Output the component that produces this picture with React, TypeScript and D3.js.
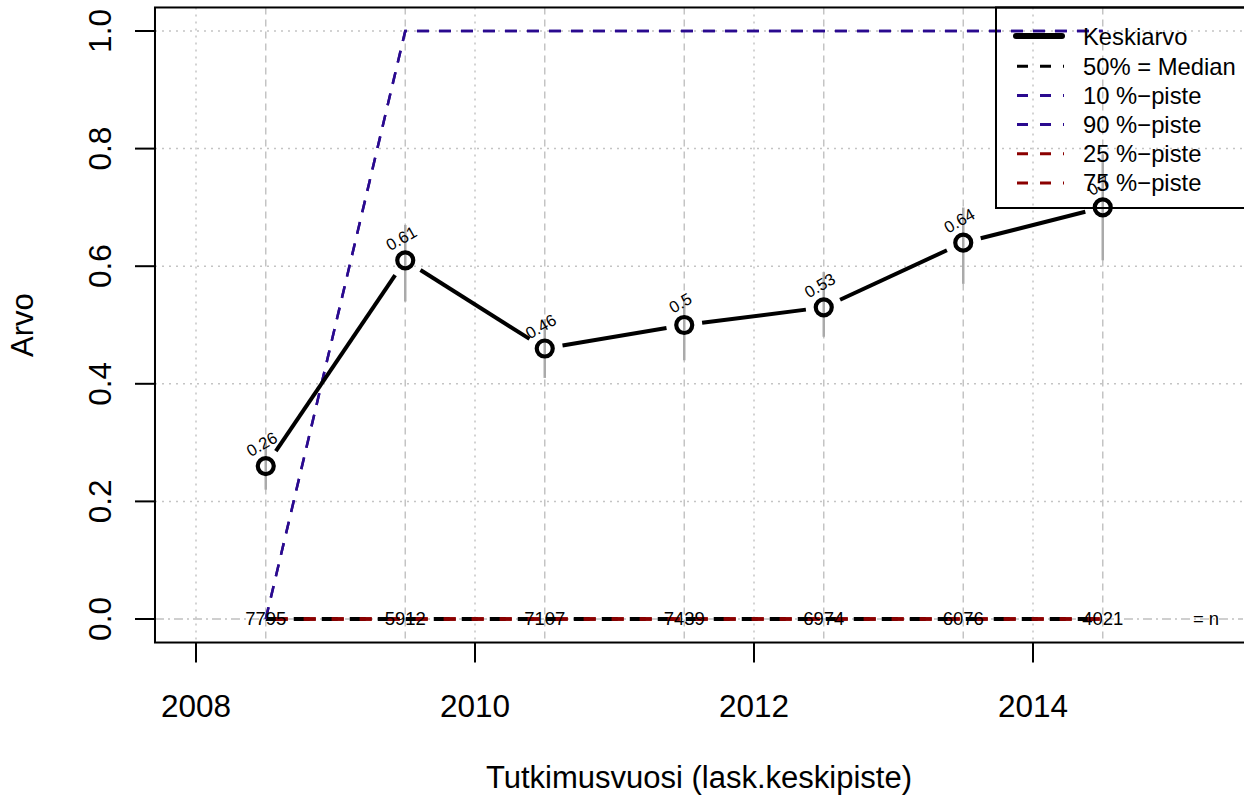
import React from "react";
import * as d3 from "d3";

const years = [2008.5, 2009.5, 2010.5, 2011.5, 2012.5, 2013.5, 2014.5];
const meanVals = [0.26, 0.61, 0.46, 0.5, 0.53, 0.64, 0.7];
const meanLabels = ["0.26", "0.61", "0.46", "0.5", "0.53", "0.64", "0.7"];
const nObs = [7795, 5912, 7107, 7439, 6974, 6076, 4021];
const ciLow = [0.22, 0.54, 0.41, 0.44, 0.48, 0.57, 0.61];
const ciHigh = [0.3, 0.67, 0.51, 0.54, 0.59, 0.7, 0.79];
const median = [0, 0, 0, 0, 0, 0, 0];
const p10 = [0, 1, 1, 1, 1, 1, 1];
const p90 = [0, 1, 1, 1, 1, 1, 1];
const p25 = [0, 0, 0, 0, 0, 0, 0];
const p75 = [0, 0, 0, 0, 0, 0, 0];
const xTicks = [2008, 2010, 2012, 2014];
const yTicks = [0, 0.2, 0.4, 0.6, 0.8, 1.0];
const legendItems = ["Keskiarvo", "50% = Median", "10 %\u2212piste", "90 %\u2212piste", "25 %\u2212piste", "75 %\u2212piste"];
const legendColors = ["#000000", "#000000", "#2a0a8f", "#2a0a8f", "#8b0000", "#8b0000"];

const W = 1244;
const H = 796;
const FONT = "'Liberation Sans', Arial, Helvetica, sans-serif";
const PURPLE = "#2a0a8f";
const DARKRED = "#8b0000";

export default function App() {
  const x = d3.scaleLinear().domain([2008, 2014]).range([196, 1033]);
  const y = d3.scaleLinear().domain([0, 1]).range([619, 31]);
  const left = x(2007.706);
  const right = 1243;
  const top = y(1.04);
  const bottom = y(-0.04);

  const line = d3
    .line<number>()
    .x((_, i) => x(years[i]))
    .y((v) => y(v));

  const gap = 18;
  const segs: { x1: number; y1: number; x2: number; y2: number }[] = [];
  for (let i = 0; i < years.length - 1; i++) {
    const ax = x(years[i]), ay = y(meanVals[i]);
    const bx = x(years[i + 1]), by = y(meanVals[i + 1]);
    const len = Math.hypot(bx - ax, by - ay);
    const ux = (bx - ax) / len, uy = (by - ay) / len;
    segs.push({ x1: ax + ux * gap, y1: ay + uy * gap, x2: bx - ux * gap, y2: by - uy * gap });
  }

  const legX = 996;
  const legTop = top;
  const rowH = 29.2;
  const row0 = 37;

  return (
    <svg
      width={W}
      height={H}
      style={{ position: "absolute", left: 0, top: 0, background: "#fff" }}
      fontFamily={FONT}
    >
      <rect x={0} y={0} width={W} height={H} fill="#fff" />
      <defs>
        <clipPath id="plotclip">
          <rect x={left} y={top} width={right - left} height={bottom - top} />
        </clipPath>
      </defs>
      <g clipPath="url(#plotclip)">
        {xTicks.map((t) => (
          <line key={"gx" + t} x1={x(t)} x2={x(t)} y1={top} y2={bottom} stroke="#c4c4c4" strokeWidth={1.5} strokeDasharray="2,5" />
        ))}
        {yTicks.filter((t) => t > 0).map((t) => (
          <line key={"gy" + t} x1={left} x2={right} y1={y(t)} y2={y(t)} stroke="#c4c4c4" strokeWidth={1.5} strokeDasharray="2,5" />
        ))}
        {years.map((t) => (
          <line key={"gv" + t} x1={x(t)} x2={x(t)} y1={top} y2={bottom} stroke="#c4c4c4" strokeWidth={1.5} strokeDasharray="7,5" />
        ))}
        <line x1={left} x2={right} y1={y(0)} y2={y(0)} stroke="#c0c0c0" strokeWidth={1.5} strokeDasharray="9,4,2,4" />

        <path d={line(median) || ""} fill="none" stroke="#000" strokeWidth={4} strokeDasharray="16,12" />
        <path d={line(p10) || ""} fill="none" stroke={PURPLE} strokeWidth={2.5} strokeDasharray="12,10" />
        <path d={line(p90) || ""} fill="none" stroke={PURPLE} strokeWidth={2.5} strokeDasharray="12,10" />
        <path d={line(p25) || ""} fill="none" stroke={DARKRED} strokeWidth={3.5} strokeDasharray="12,16" strokeDashoffset={18} />
        <path d={line(p75) || ""} fill="none" stroke={DARKRED} strokeWidth={3.5} strokeDasharray="12,16" strokeDashoffset={18} />

        {years.map((t, i) => (
          <line key={"ci" + t} x1={x(t)} x2={x(t)} y1={y(ciLow[i])} y2={y(ciHigh[i])} stroke="#aaaaaa" strokeWidth={2.5} />
        ))}

        {segs.map((s, i) => (
          <line key={"s" + i} x1={s.x1} y1={s.y1} x2={s.x2} y2={s.y2} stroke="#000" strokeWidth={4} />
        ))}
        {years.map((t, i) => (
          <circle key={"c" + t} cx={x(t)} cy={y(meanVals[i])} r={8} fill="none" stroke="#000" strokeWidth={4.2} />
        ))}

        {years.map((t, i) => (
          <text key={"n" + t} x={x(t)} y={y(0)} dy="0.35em" textAnchor="middle" fontSize={18.5} fill="#000">
            {nObs[i]}
          </text>
        ))}
        <text x={1206} y={y(0)} dy="0.35em" textAnchor="middle" fontSize={18.5} fill="#000">
          = n
        </text>

        {years.map((t, i) => (
          <text
            key={"v" + t}
            transform={`translate(${x(t) - 1},${y(meanVals[i]) - 17}) rotate(-30)`}
            textAnchor="middle"
            fontSize={16.5}
            fill="#000"
          >
            {meanLabels[i]}
          </text>
        ))}
      </g>

      <rect x={left} y={top} width={right - left + 4} height={bottom - top} fill="none" stroke="#000" strokeWidth={2} />

      {xTicks.map((t) => (
        <g key={"xt" + t}>
          <line x1={x(t)} x2={x(t)} y1={bottom} y2={bottom + 20} stroke="#000" strokeWidth={2} />
          <text x={x(t)} y={717} textAnchor="middle" fontSize={31.5} fill="#000">
            {t}
          </text>
        </g>
      ))}
      {yTicks.map((t) => (
        <g key={"yt" + t}>
          <line x1={left - 20} x2={left} y1={y(t)} y2={y(t)} stroke="#000" strokeWidth={2} />
          <text transform={`translate(111,${y(t)}) rotate(-90)`} textAnchor="middle" fontSize={31.5} fill="#000">
            {t.toFixed(1)}
          </text>
        </g>
      ))}

      <text x={(left + right) / 2} y={788} textAnchor="middle" fontSize={31} fill="#000">
        Tutkimusvuosi (lask.keskipiste)
      </text>
      <text transform={`translate(33,${(top + bottom) / 2}) rotate(-90)`} textAnchor="middle" fontSize={31} fill="#000">
        Arvo
      </text>

      <rect x={legX} y={legTop} width={W - legX + 10} height={208 - legTop} fill="none" stroke="#000" strokeWidth={2} />
      {legendItems.map((lab, i) => {
        const cy = row0 + i * rowH;
        return (
          <g key={"lg" + i}>
            {i === 0 ? (
              <line x1={1016} x2={1062} y1={cy - 1} y2={cy - 1} stroke="#000" strokeWidth={6} strokeLinecap="round" />
            ) : (
              <line x1={1017} x2={1064} y1={cy} y2={cy} stroke={legendColors[i]} strokeWidth={3} strokeDasharray="11,12" />
            )}
            <text x={1083} y={cy} dy="0.35em" fontSize={23.8} fill="#000">
              {lab}
            </text>
          </g>
        );
      })}
    </svg>
  );
}
